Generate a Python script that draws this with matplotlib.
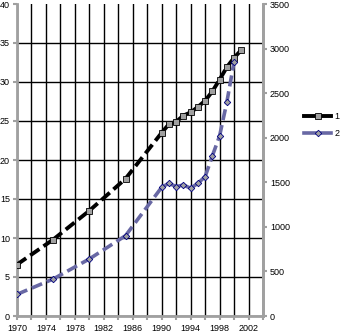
import matplotlib
matplotlib.use("Agg")
import matplotlib.pyplot as plt
from matplotlib.lines import Line2D

plt.rcParams['font.family'] = ['Liberation Sans', 'DejaVu Sans']
plt.rcParams['lines.scale_dashes'] = False

# data
years1 = [1970, 1975, 1980, 1985, 1990, 1991, 1992, 1993, 1994, 1995, 1996, 1997, 1998, 1999, 2000, 2001]
series1 = [6.6, 9.8, 13.5, 17.6, 23.5, 24.6, 24.9, 25.7, 26.1, 26.8, 27.6, 28.8, 30.3, 31.9, 33.1, 34.1]
years2 = [1970, 1975, 1980, 1985, 1990, 1991, 1992, 1993, 1994, 1995, 1996, 1997, 1998, 1999, 2000]
series2 = [243, 415, 640, 901, 1444, 1489, 1451, 1470, 1433, 1489, 1563, 1796, 2020, 2398, 2851]
labels = ["1", "2"]
xticks = list(range(1970, 2003, 4))

c1 = "black"
c2 = "#6868a4"
dash = (8, 3.6)
fs = 6.5

fig = plt.figure(figsize=(3.44, 3.34), dpi=100)
ax = fig.add_axes([17 / 344, 18 / 334, 246 / 344, 312 / 334])
ax2 = ax.twinx()

# each segment drawn on its own so the dash pattern restarts, like excel does
for i in range(len(years1) - 1):
    ax.plot(years1[i:i + 2], series1[i:i + 2], color=c1, lw=2.8, dashes=dash,
            dash_capstyle='butt', zorder=3)
ax.plot(years1, series1, ls='none', marker='s', ms=4, mfc='#a0a0a0', mec='black',
        mew=0.6, zorder=4)

for i in range(len(years2) - 1):
    ax2.plot(years2[i:i + 2], series2[i:i + 2], color=c2, lw=2.6, dashes=dash,
             dash_capstyle='butt', zorder=3)
ax2.plot(years2, series2, ls='none', marker='D', ms=3.3, mfc='#a0a0a0', mec='#000080',
         mew=0.6, zorder=4)

ax.set_xlim(1970, 2004)
ax.set_ylim(0, 40)
ax2.set_ylim(0, 3500)
ax.set_xticks(xticks)
ax.set_xticks(range(1970, 2005, 2), minor=True)
ax.set_yticks(range(0, 41, 5))
ax2.set_yticks(range(0, 3501, 500))

ax.grid(True, which='both', axis='x', color='black', lw=1)
ax.grid(True, which='major', axis='y', color='black', lw=1)
ax.set_axisbelow(True)

for a in (ax, ax2):
    a.spines['top'].set_visible(False)
    for s in ('left', 'right', 'bottom'):
        a.spines[s].set_color('#a0a0a0')
        a.spines[s].set_linewidth(2)
    a.tick_params(which='both', direction='out', length=3, width=1.5, color='#a0a0a0',
                  labelsize=fs, pad=2)
ax2.spines['left'].set_visible(False)
ax2.spines['bottom'].set_visible(False)
ax.tick_params(axis='x', pad=3)
ax2.set_zorder(ax.get_zorder() + 1)
ax2.patch.set_visible(False)

fig.canvas.draw()
ax.yaxis.get_gridlines()[-1].set_visible(False)

handles = [
    Line2D([], [], color=c1, lw=2.8, marker='s', ms=4, mfc='#a0a0a0', mec='black', mew=0.6),
    Line2D([], [], color=c2, lw=2.6, marker='D', ms=3.3, mfc='#a0a0a0', mec='#000080', mew=0.6),
]
fig.legend(handles, labels, loc='center left', bbox_to_anchor=(304 / 344, 1 - 125 / 334),
           frameon=False, fontsize=fs, handlelength=3.0, handletextpad=0.4,
           labelspacing=0.9, borderaxespad=0, borderpad=0)

fig.savefig("out.png", dpi=100)
